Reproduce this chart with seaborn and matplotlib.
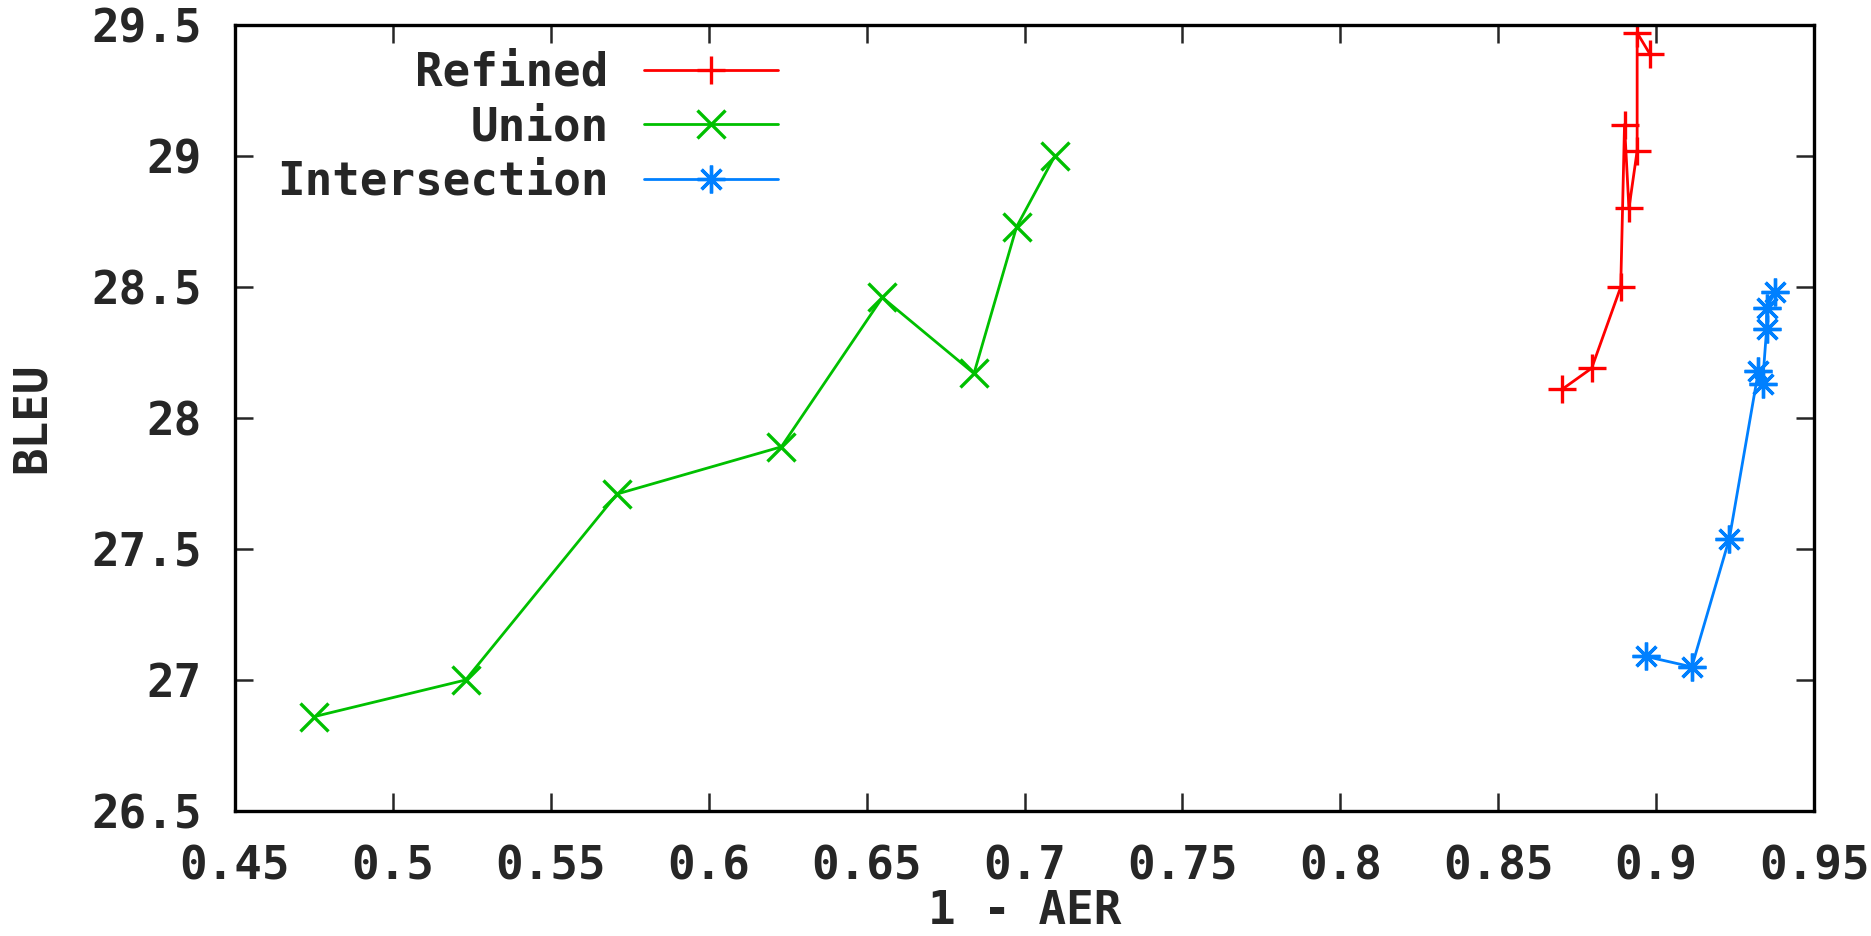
import matplotlib
matplotlib.use('Agg')
import matplotlib.pyplot as plt
import seaborn as sns

# values (1 - AER vs BLEU)
refined_x = [0.8703, 0.8796, 0.8888, 0.8900, 0.8914, 0.8940, 0.8940, 0.8980]
refined_y = [28.11, 28.19, 28.50, 29.12, 28.80, 29.02, 29.47, 29.39]

union_x = [0.475, 0.523, 0.571, 0.623, 0.655, 0.684, 0.6975, 0.7096]
union_y = [26.86, 27.00, 27.71, 27.89, 28.46, 28.17, 28.73, 29.00]

inter_x = [0.8968, 0.9113, 0.9232, 0.9324, 0.9337, 0.9350, 0.9350, 0.9377]
inter_y = [27.09, 27.05, 27.54, 28.18, 28.13, 28.34, 28.42, 28.48]

x_ticks = [0.45, 0.5, 0.55, 0.6, 0.65, 0.7, 0.75, 0.8, 0.85, 0.9, 0.95]
y_ticks = [26.5, 27, 27.5, 28, 28.5, 29, 29.5]

sns.set_style('ticks')
plt.rcParams['font.family'] = ['DejaVu Sans Mono']
plt.rcParams['font.weight'] = 'bold'
FS = 33

fig = plt.figure(figsize=(18.71, 9.36), dpi=100)
ax = fig.add_axes([235/1871, 1 - 811/936, (1814-235)/1871, (811-25)/936])

common = dict(ax=ax, sort=False, estimator=None, lw=2.0, markersize=20, mew=2.4)
sns.lineplot(x=refined_x, y=refined_y, color='#ff0000', marker='+', mec='#ff0000',
             label='Refined', **common)
sns.lineplot(x=union_x, y=union_y, color='#00c000', marker='x', mec='#00c000',
             label='Union', **common)
sns.lineplot(x=inter_x, y=inter_y, color='#0080ff', marker=(8, 2, 0), mec='#0080ff',
             label='Intersection', **common)

ax.set_xlim(0.45, 0.95)
ax.set_ylim(26.5, 29.5)
ax.set_xticks(x_ticks)
ax.set_xticklabels([('%g' % v) for v in x_ticks])
ax.set_yticks(y_ticks)
ax.set_yticklabels([('%g' % v) for v in y_ticks])

ax.tick_params(direction='in', length=13, width=1.8, top=True, right=True, labelsize=FS)
ax.tick_params(axis='x', pad=24)
ax.tick_params(axis='y', pad=24)
for s in ax.spines.values():
    s.set_linewidth(2.4)
    s.set_color('black')

ax.set_xlabel('1 - AER', fontsize=FS, fontweight='bold')
ax.xaxis.set_label_coords(0.5, -0.099)
ax.set_ylabel('BLEU', fontsize=FS, fontweight='bold', va='center')
ax.yaxis.set_label_coords((32-235)/1579, 0.5)

ax.legend(loc='upper right', bbox_to_anchor=(778/1871, 0.946),
          bbox_transform=fig.transFigure, markerfirst=False, frameon=False,
          handlelength=2.93, handletextpad=0.76, labelspacing=0.21, borderpad=0,
          borderaxespad=0, prop={'size': FS, 'weight': 'bold'})

fig.savefig('out.png', dpi=100)
